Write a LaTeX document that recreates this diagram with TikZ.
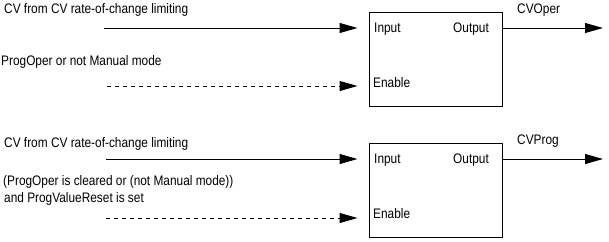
\documentclass[tikz,border=0pt]{standalone}
\usepackage{fontspec}
\setsansfont[FakeStretch=0.86]{Liberation Sans}
\usetikzlibrary{arrows.meta,positioning}
\tikzset{
  blk/.style={draw, rectangle, line width=1pt, minimum width=133pt, minimum height=94pt, inner sep=0pt},
  txt/.style={font=\sffamily\fontsize{13.8}{17}\selectfont, inner sep=0pt, anchor=base west},
  rtxt/.style={txt, anchor=base east},
  sig/.style={-{Triangle[length=18pt,width=10pt]}, line width=1pt},
  dsig/.style={sig, dash pattern=on 4pt off 4pt},
}
\begin{document}
\begin{tikzpicture}[x=1pt,y=-1pt]
\useasboundingbox (0,0) rectangle (609,241);
% upper block
\node[blk] (b1) at (435.5,59) {};
\node[txt] (in1) at (374,32) {Input};
\node[rtxt] (out1) at (489,32) {Output};
\node[txt] (en1) at (373,87) {Enable};
\node[txt] (l1) at (4,13) {CV from CV rate-of-change limiting};
\node[txt] (l2) at (1,65) {ProgOper or not Manual mode};
\node[txt] (o1l) at (517,13) {CVOper};
\coordinate (s1) at (104,28);
\coordinate (e1) at (107,86);
\coordinate (o1) at (603,28);
\draw[sig, shorten >=11pt] (s1) -- (s1 -| b1.west);
\draw[dsig, shorten >=11pt] (e1) -- (e1 -| b1.west);
\draw[sig] (b1.east |- o1) -- (o1);
% lower block
\node[blk] (b2) at (435.5,190) {};
\node[txt] (in2) at (374,163) {Input};
\node[rtxt] (out2) at (489,163) {Output};
\node[txt] (en2) at (373,218) {Enable};
\node[txt] (l3) at (4,147) {CV from CV rate-of-change limiting};
\node[txt] (l4) at (3,185) {(ProgOper is cleared or (not Manual mode))};
\node[txt] (l5) at (4,202) {and ProgValueReset is set};
\node[txt] (o2l) at (517,144) {CVProg};
\coordinate (s2) at (106,159);
\coordinate (e2) at (106,218);
\coordinate (o2) at (603,159);
\draw[sig, shorten >=11pt] (s2) -- (s2 -| b2.west);
\draw[dsig, shorten >=11pt] (e2) -- (e2 -| b2.west);
\draw[sig] (b2.east |- o2) -- (o2);
\end{tikzpicture}
\end{document}
